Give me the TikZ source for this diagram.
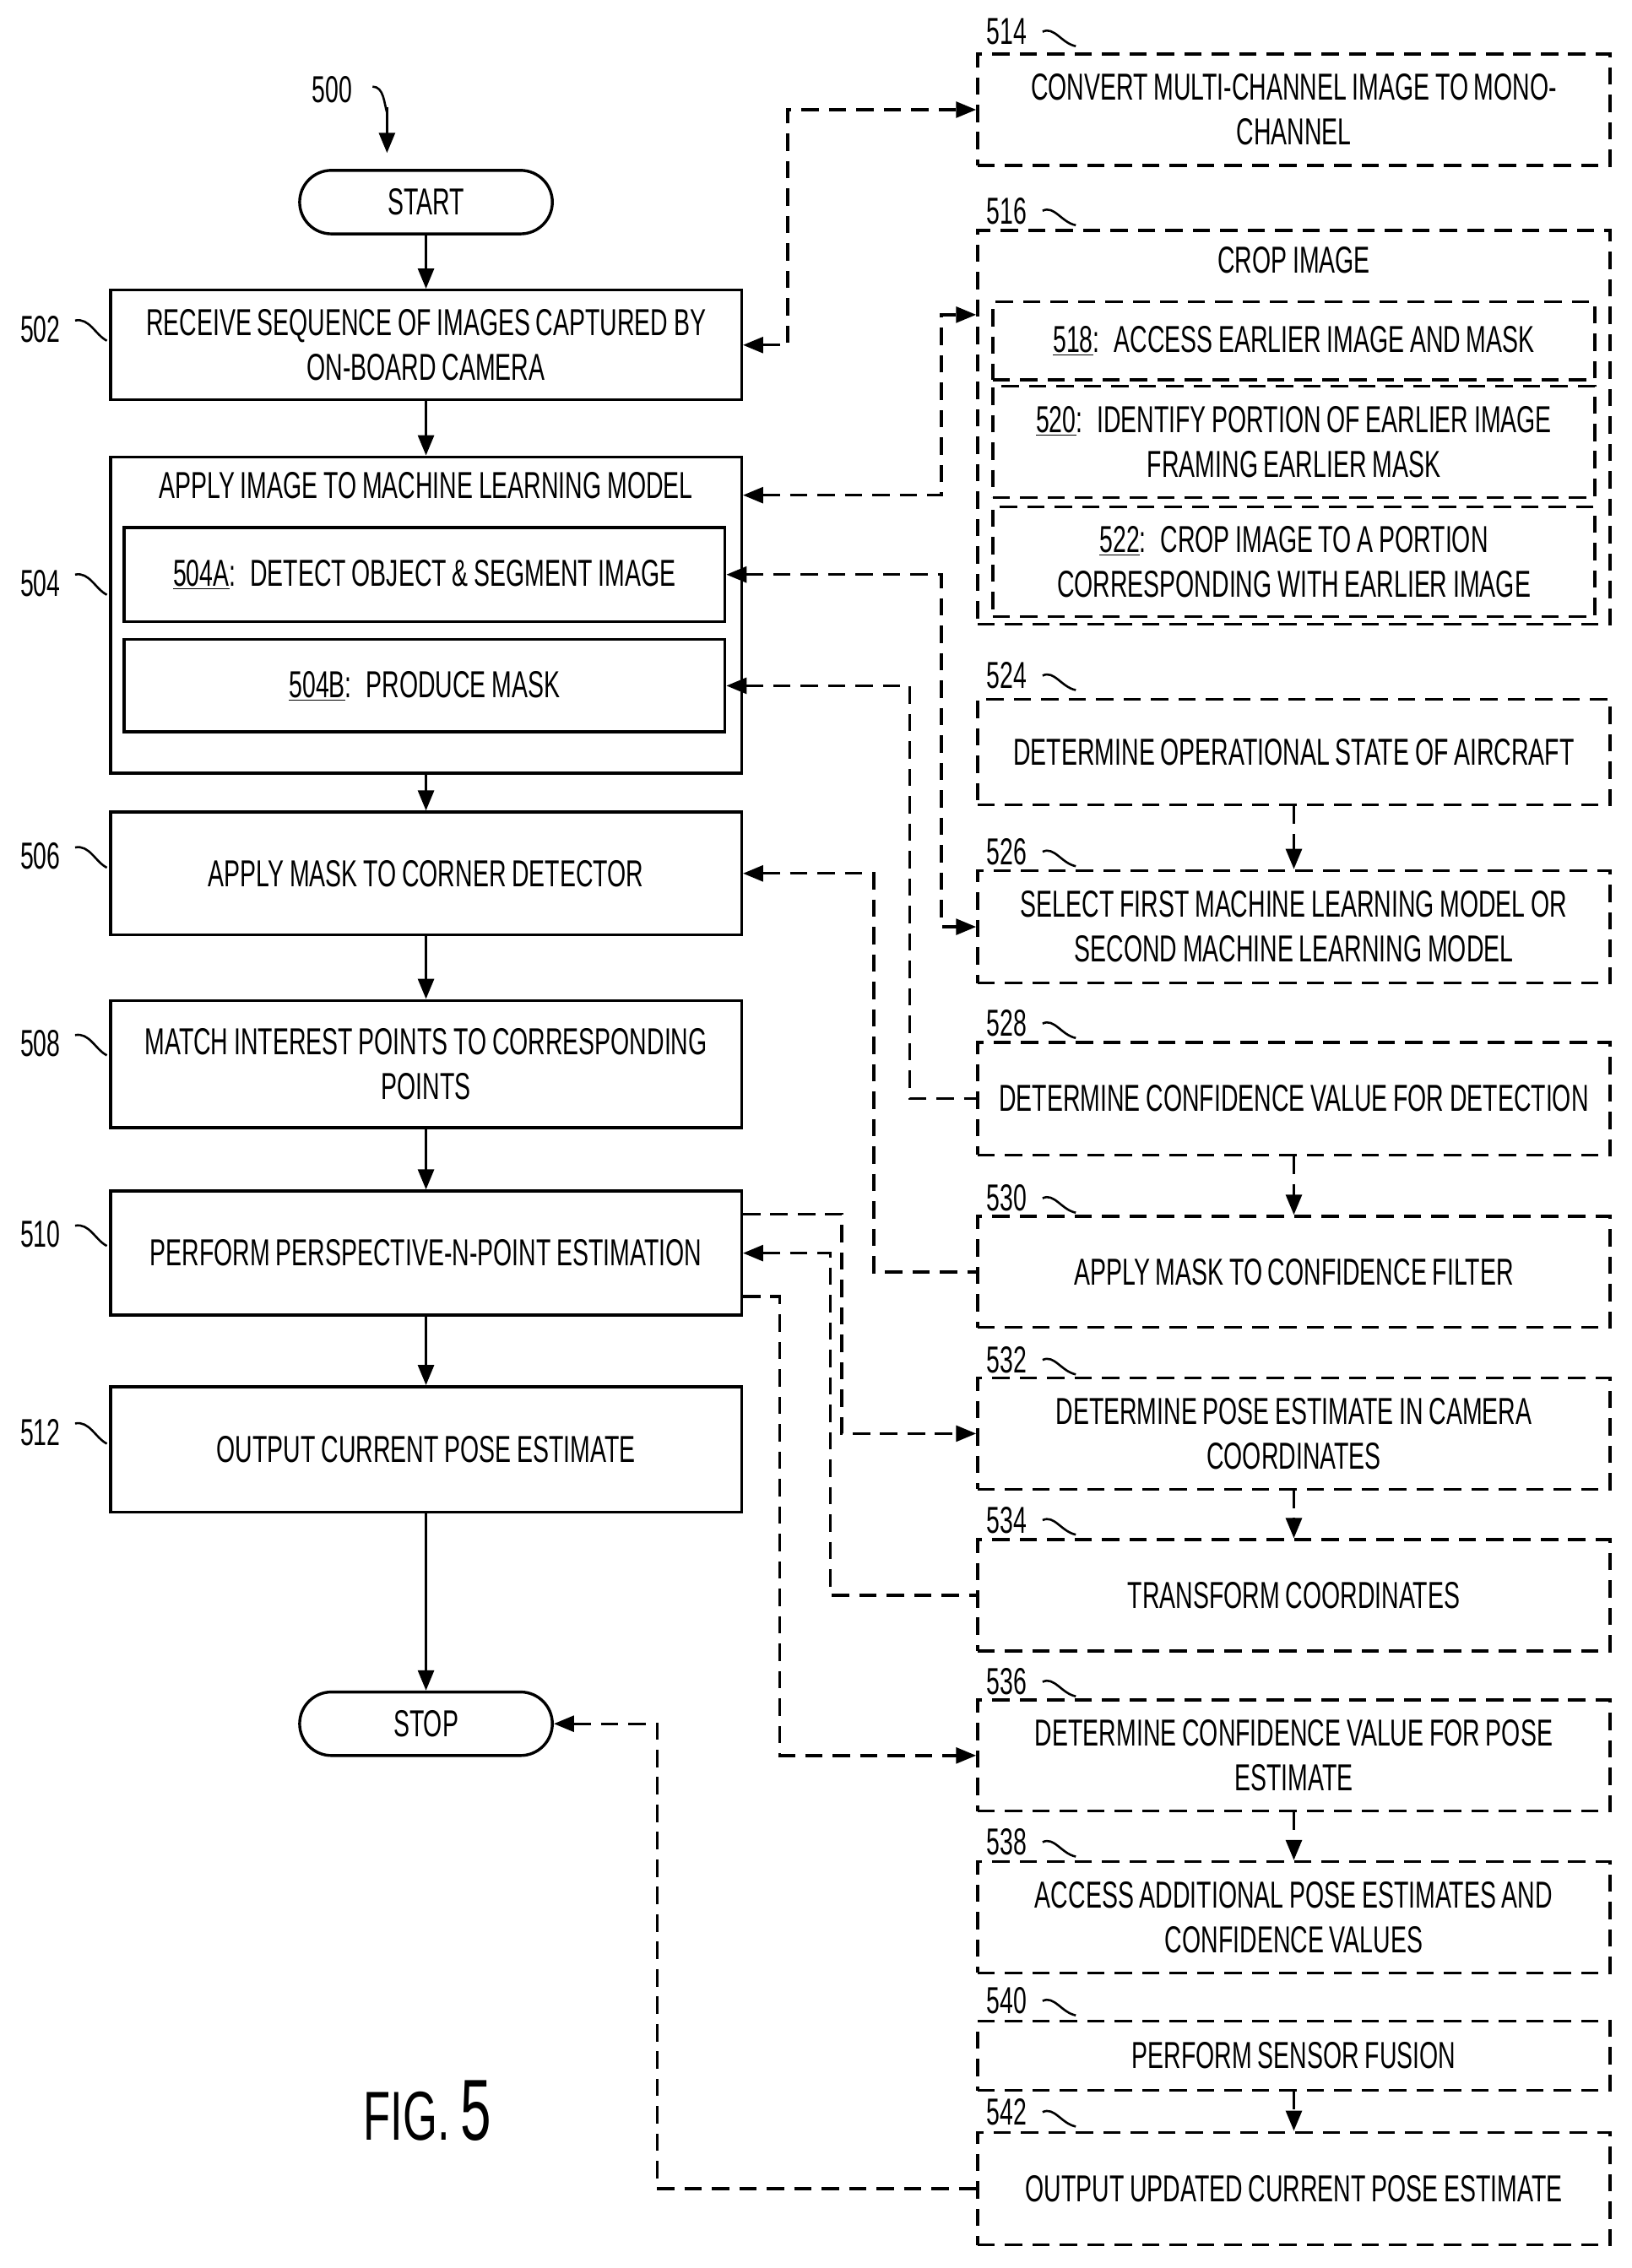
\documentclass[tikz,border=0pt]{standalone}
\usepackage{fontspec}
\setmainfont{Liberation Sans}[FakeStretch=0.64,WordSpace=0.85]
\usetikzlibrary{arrows.meta,positioning,calc}

\begin{document}
\begin{tikzpicture}[
  x=1pt, y=-1pt,
  >={Triangle[length=14pt,width=11pt]},
  every node/.style = {font=\fontsize{26}{31}\selectfont},
  proc/.style  = {draw, line width=2pt, align=center, minimum width=437pt, inner sep=0pt},
  sub/.style   = {draw, line width=2pt, align=center, minimum width=416pt, inner sep=0pt},
  opt/.style   = {draw, line width=2pt, dash pattern=on 12pt off 7pt, align=center, minimum width=438pt, inner sep=0pt},
  osub/.style  = {opt, minimum width=417pt},
  term/.style  = {draw, line width=2pt, rounded corners=22pt, minimum width=175pt, minimum height=44pt, inner sep=0pt},
  link/.style  = {line width=2pt, ->},
  dlink/.style = {line width=2pt, dash pattern=on 12pt off 7pt},
  num/.style   = {inner sep=0pt}
]
\useasboundingbox (0,0) rectangle (1130,1571);

% ---- left column ----
\node[term] (start) at (295,140) {START};
\node[proc, minimum height=76pt] (s502) at (295,239) {RECEIVE SEQUENCE OF IMAGES CAPTURED BY\\ON-BOARD CAMERA};
\node[proc, minimum height=219pt] (s504) at (295,426) {};
\node at (295,336) {APPLY IMAGE TO MACHINE LEARNING MODEL};
\node[sub, minimum height=65pt] (s504a) at (294,398) {\underline{504A}:\, DETECT OBJECT \& SEGMENT IMAGE};
\node[sub, minimum height=64pt] (s504b) at (294,475) {\underline{504B}:\, PRODUCE MASK};
\node[proc, minimum height=85pt] (s506) at (295,605) {APPLY MASK TO CORNER DETECTOR};
\node[proc, minimum height=88pt] (s508) at (295,737) {MATCH INTEREST POINTS TO CORRESPONDING\\POINTS};
\node[proc, minimum height=86pt] (s510) at (295,868) {PERFORM PERSPECTIVE-N-POINT ESTIMATION};
\node[proc, minimum height=87pt] (s512) at (295,1004) {OUTPUT CURRENT POSE ESTIMATE};
\node[term] (stop) at (295,1194) {STOP};

% ---- right column ----
\node[opt, minimum height=77pt] (s514) at (896,76) {CONVERT MULTI-CHANNEL IMAGE TO MONO-\\CHANNEL};
\node[opt, minimum height=273pt] (s516) at (896,296) {};
\node at (896,180) {CROP IMAGE};
\node[osub, minimum height=54pt] (s518) at (896,236) {\underline{518}:\, ACCESS EARLIER IMAGE AND MASK};
\node[osub, minimum height=77pt] (s520) at (896,306) {\underline{520}:\, IDENTIFY PORTION OF EARLIER IMAGE\\FRAMING EARLIER MASK};
\node[osub, minimum height=76pt] (s522) at (896,389) {\underline{522}:\, CROP IMAGE TO A PORTION\\CORRESPONDING WITH EARLIER IMAGE};
\node[opt, minimum height=73pt] (s524) at (896,521) {DETERMINE OPERATIONAL STATE OF AIRCRAFT};
\node[opt, minimum height=78pt] (s526) at (896,642) {SELECT FIRST MACHINE LEARNING MODEL OR\\SECOND MACHINE LEARNING MODEL};
\node[opt, minimum height=78pt] (s528) at (896,761) {DETERMINE CONFIDENCE VALUE FOR DETECTION};
\node[opt, minimum height=77pt] (s530) at (896,881) {APPLY MASK TO CONFIDENCE FILTER};
\node[opt, minimum height=77pt] (s532) at (896,993) {DETERMINE POSE ESTIMATE IN CAMERA\\COORDINATES};
\node[opt, minimum height=77pt] (s534) at (896,1105) {TRANSFORM COORDINATES};
\node[opt, minimum height=77pt] (s536) at (896,1216) {DETERMINE CONFIDENCE VALUE FOR POSE\\ESTIMATE};
\node[opt, minimum height=77pt] (s538) at (896,1328) {ACCESS ADDITIONAL POSE ESTIMATES AND\\CONFIDENCE VALUES};
\node[opt, minimum height=48pt] (s540) at (896,1424) {PERFORM SENSOR FUSION};
\node[opt, minimum height=78pt] (s542) at (896,1516) {OUTPUT UPDATED CURRENT POSE ESTIMATE};

% ---- reference numbers ----
\node[num] (n500) at (230,62) {500};
\draw[line width=1.5pt] (258,60) .. controls (266,60) and (266,72) .. (268,78);
\draw[link] (268,74) -- (268,106);
\foreach \n/\y in {502/228,504/404,506/593,508/723,510/855,512/992} {
  \node[num] (n\n) at (28,\y) {\n};
  \draw[line width=1.5pt] (52,\y-6) .. controls (62,\y-8) and (66,\y+4) .. (74,\y+8);
}
\foreach \n/\y in {514/22,516/146,524/468,526/590,528/709,530/830,532/942,534/1053,536/1165,538/1276,540/1386,542/1463} {
  \node[num] (n\n) at (697,\y) {\n};
  \draw[line width=1.5pt] (722,\y) .. controls (730,\y-4) and (735,\y+8) .. (745,\y+10);
}

% ---- main flow ----
\draw[link] (start) -- (s502);
\draw[link] (s502) -- (s504);
\draw[link] (s504) -- (s506);
\draw[link] (s506) -- (s508);
\draw[link] (s508) -- (s510);
\draw[link] (s510) -- (s512);
\draw[link] (s512) -- (stop);

% ---- optional links ----
\draw[dlink, <->] (s502.east) -- ++(31,0) |- (s514.west);
\draw[dlink, <->] (s504.east |- 0,343) -| (652,218) -- (s516.west |- 0,218);
\draw[dlink, <->] (s504a.east) -| (652,642) -- (s526.west);
\draw[dlink, <-] (s504b.east) -| (630,761) -- (s528.west);
\draw[dlink, <-] (s506.east) -| (605,881) -- (s530.west);
\draw[dlink, ->] (s510.east |- 0,841) -| (583,993) -- (s532.west);
\draw[dlink, <-] (s510.east) -| (575,1105) -- (s534.west);
\draw[dlink, ->] (s510.east |- 0,898) -| (540,1216) -- (s536.west);
\draw[dlink, <-] (stop.east) -| (455,1516) -- (s542.west);
\foreach \a/\b in {s524/s526,s528/s530,s532/s534,s536/s538,s540/s542}
  \draw[dlink, ->] (\a) -- (\b);

\node (fig) at (296,1462) {\fontsize{48}{56}\selectfont FIG. \fontsize{60}{60}\selectfont 5};
\end{tikzpicture}
\end{document}
